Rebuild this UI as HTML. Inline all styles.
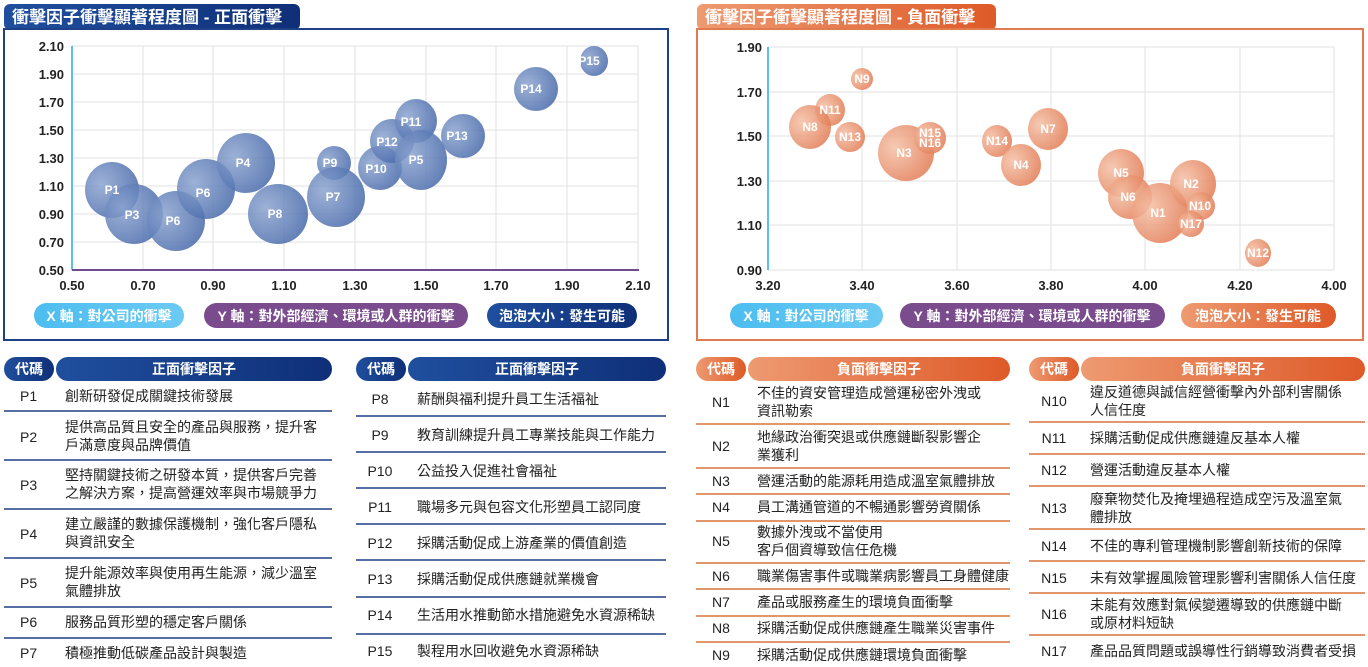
<!DOCTYPE html>
<html><head><meta charset="utf-8"><style>
body{margin:0;background:#fff;}
svg{display:block;font-family:"Liberation Sans","Noto Sans CJK TC",sans-serif;}
</style></head><body>
<svg width="1368" height="667" viewBox="0 0 1368 667" xmlns="http://www.w3.org/2000/svg">
<defs>
<linearGradient id="gb" x1="0" y1="0" x2="1" y2="0"><stop offset="0" stop-color="#1f4f9e"/><stop offset="1" stop-color="#0f2f78"/></linearGradient>
<linearGradient id="go" x1="0" y1="0" x2="1" y2="0"><stop offset="0" stop-color="#ee9a72"/><stop offset="1" stop-color="#de5a28"/></linearGradient>
<linearGradient id="gx" x1="0" y1="0" x2="1" y2="0"><stop offset="0" stop-color="#4cbdf0"/><stop offset="1" stop-color="#6ccaf2"/></linearGradient>
<radialGradient id="bb" cx="0.3" cy="0.4" r="0.8"><stop offset="0" stop-color="#8ca4cf" stop-opacity="0.85"/><stop offset="1" stop-color="#3f62a6" stop-opacity="0.85"/></radialGradient>
<radialGradient id="bo" cx="0.3" cy="0.4" r="0.8"><stop offset="0" stop-color="#f4c0a6" stop-opacity="0.85"/><stop offset="1" stop-color="#e0734a" stop-opacity="0.85"/></radialGradient>
</defs>

<!-- LEFT CHART -->
<rect x="4" y="4" width="296" height="26" rx="6" fill="url(#gb)"/>
<text x="12" y="23" font-size="17" font-weight="bold" fill="#fff">衝擊因子衝擊顯著程度圖 - 正面衝擊</text>
<rect x="4" y="29" width="664" height="311" fill="#fff" stroke="#1f3f86" stroke-width="2"/>
<g stroke="#e2e2e2" stroke-width="1">
<line x1="72" y1="46" x2="638" y2="46"/><line x1="72" y1="74" x2="638" y2="74"/><line x1="72" y1="102" x2="638" y2="102"/><line x1="72" y1="130" x2="638" y2="130"/><line x1="72" y1="158" x2="638" y2="158"/><line x1="72" y1="186" x2="638" y2="186"/><line x1="72" y1="214" x2="638" y2="214"/><line x1="72" y1="242" x2="638" y2="242"/>
<line x1="143" y1="46" x2="143" y2="270"/><line x1="213" y1="46" x2="213" y2="270"/><line x1="284" y1="46" x2="284" y2="270"/><line x1="355" y1="46" x2="355" y2="270"/><line x1="426" y1="46" x2="426" y2="270"/><line x1="496" y1="46" x2="496" y2="270"/><line x1="567" y1="46" x2="567" y2="270"/><line x1="638" y1="46" x2="638" y2="270"/>
</g>
<line x1="72" y1="46" x2="72" y2="270" stroke="#5bc0ea" stroke-width="2"/>
<line x1="72" y1="270" x2="639" y2="270" stroke="#6e4c8e" stroke-width="2"/>
<g font-size="13" font-weight="bold" fill="#222" text-anchor="end">
<text x="64" y="51">2.10</text><text x="64" y="79">1.90</text><text x="64" y="107">1.70</text><text x="64" y="135">1.50</text><text x="64" y="163">1.30</text><text x="64" y="191">1.10</text><text x="64" y="219">0.90</text><text x="64" y="247">0.70</text><text x="64" y="275">0.50</text>
</g>
<g font-size="13" font-weight="bold" fill="#222" text-anchor="middle">
<text x="72" y="290">0.50</text><text x="143" y="290">0.70</text><text x="213" y="290">0.90</text><text x="284" y="290">1.10</text><text x="355" y="290">1.30</text><text x="426" y="290">1.50</text><text x="496" y="290">1.70</text><text x="567" y="290">1.90</text><text x="638" y="290">2.10</text>
</g>
<g fill="url(#bb)">
<ellipse cx="112" cy="190" rx="27" ry="28"/><ellipse cx="134" cy="214" rx="29" ry="30"/><ellipse cx="176" cy="221" rx="29" ry="30"/><ellipse cx="206" cy="189" rx="29" ry="30"/><ellipse cx="246" cy="163" rx="29" ry="30"/><ellipse cx="278" cy="214" rx="30" ry="30"/><ellipse cx="334" cy="163" rx="17" ry="17"/><ellipse cx="336" cy="197" rx="29" ry="30"/><ellipse cx="380" cy="168" rx="22" ry="22"/><ellipse cx="392" cy="141" rx="22" ry="22"/><ellipse cx="416" cy="121" rx="21" ry="22"/><ellipse cx="421" cy="160" rx="26" ry="30"/><ellipse cx="463" cy="136" rx="22" ry="22"/><ellipse cx="536" cy="89" rx="22" ry="22"/><ellipse cx="594" cy="61" rx="14" ry="15"/>
</g>
<g font-size="12" font-weight="bold" fill="#fff" text-anchor="middle">
<text x="112" y="194">P1</text><text x="132" y="219">P3</text><text x="173" y="225">P6</text><text x="203" y="197">P6</text><text x="243" y="167">P4</text><text x="275" y="218">P8</text><text x="330" y="167">P9</text><text x="333" y="201">P7</text><text x="376" y="173">P10</text><text x="387" y="146">P12</text><text x="411" y="126">P11</text><text x="416" y="164">P5</text><text x="457" y="140">P13</text><text x="531" y="93">P14</text><text x="589" y="65">P15</text>
</g>
<rect x="34" y="303" width="150" height="25" rx="12.5" fill="url(#gx)"/>
<text x="109" y="321" font-size="14" font-weight="bold" fill="#fff" text-anchor="middle">X 軸：對公司的衝擊</text>
<rect x="204" y="303" width="264" height="25" rx="12.5" fill="#7a4c8e"/>
<text x="336" y="321" font-size="14" font-weight="bold" fill="#fff" text-anchor="middle">Y 軸：對外部經濟、環境或人群的衝擊</text>
<rect x="487" y="303" width="150" height="25" rx="12.5" fill="url(#gb)"/>
<text x="562" y="321" font-size="14" font-weight="bold" fill="#fff" text-anchor="middle">泡泡大小：發生可能</text>

<!-- RIGHT CHART -->
<rect x="697" y="4" width="299" height="26" rx="6" fill="url(#go)"/>
<text x="705" y="23" font-size="17" font-weight="bold" fill="#fff">衝擊因子衝擊顯著程度圖 - 負面衝擊</text>
<rect x="697" y="29" width="666" height="311" fill="#fff" stroke="#e07a50" stroke-width="2"/>
<g stroke="#e2e2e2" stroke-width="1">
<line x1="768" y1="47" x2="1334" y2="47"/><line x1="768" y1="92" x2="1334" y2="92"/><line x1="768" y1="136" x2="1334" y2="136"/><line x1="768" y1="181" x2="1334" y2="181"/><line x1="768" y1="225" x2="1334" y2="225"/><line x1="768" y1="270" x2="1334" y2="270"/>
<line x1="862" y1="47" x2="862" y2="270"/><line x1="957" y1="47" x2="957" y2="270"/><line x1="1051" y1="47" x2="1051" y2="270"/><line x1="1145" y1="47" x2="1145" y2="270"/><line x1="1240" y1="47" x2="1240" y2="270"/><line x1="1334" y1="47" x2="1334" y2="270"/>
</g>
<line x1="768" y1="47" x2="768" y2="270" stroke="#5bc0ea" stroke-width="2"/>
<g font-size="13" font-weight="bold" fill="#222" text-anchor="end">
<text x="762" y="52">1.90</text><text x="762" y="97">1.70</text><text x="762" y="141">1.50</text><text x="762" y="186">1.30</text><text x="762" y="230">1.10</text><text x="762" y="275">0.90</text>
</g>
<g font-size="13" font-weight="bold" fill="#222" text-anchor="middle">
<text x="768" y="290">3.20</text><text x="862" y="290">3.40</text><text x="957" y="290">3.60</text><text x="1051" y="290">3.80</text><text x="1145" y="290">4.00</text><text x="1240" y="290">4.20</text><text x="1334" y="290">4.00</text>
</g>
<g fill="url(#bo)">
<ellipse cx="862" cy="79" rx="11" ry="11"/><ellipse cx="830" cy="110" rx="15" ry="16"/><ellipse cx="810" cy="127" rx="21" ry="22"/><ellipse cx="850" cy="137" rx="15" ry="15"/><ellipse cx="906" cy="153" rx="28" ry="28"/><ellipse cx="930" cy="138" rx="16" ry="16"/><ellipse cx="997" cy="141" rx="15" ry="16"/><ellipse cx="1048" cy="129" rx="20" ry="21"/><ellipse cx="1021" cy="165" rx="20" ry="21"/><ellipse cx="1121" cy="173" rx="23" ry="24"/><ellipse cx="1130" cy="197" rx="22" ry="22"/><ellipse cx="1160" cy="213" rx="28" ry="30"/><ellipse cx="1193" cy="184" rx="23" ry="24"/><ellipse cx="1201" cy="206" rx="14" ry="14"/><ellipse cx="1191" cy="224" rx="13" ry="13"/><ellipse cx="1258" cy="253" rx="13" ry="14"/>
</g>
<g font-size="12" font-weight="bold" fill="#fff" text-anchor="middle">
<text x="862" y="83">N9</text><text x="830" y="114">N11</text><text x="810" y="131">N8</text><text x="850" y="141">N13</text><text x="904" y="157">N3</text><text x="930" y="137">N15</text><text x="930" y="147">N16</text><text x="997" y="145">N14</text><text x="1048" y="133">N7</text><text x="1021" y="169">N4</text><text x="1121" y="177">N5</text><text x="1128" y="201">N6</text><text x="1158" y="217">N1</text><text x="1191" y="188">N2</text><text x="1200" y="210">N10</text><text x="1191" y="228">N17</text><text x="1258" y="257">N12</text>
</g>
<rect x="730" y="303" width="153" height="25" rx="12.5" fill="url(#gx)"/>
<text x="806" y="321" font-size="14" font-weight="bold" fill="#fff" text-anchor="middle">X 軸：對公司的衝擊</text>
<rect x="900" y="303" width="265" height="25" rx="12.5" fill="#7a4c8e"/>
<text x="1032" y="321" font-size="14" font-weight="bold" fill="#fff" text-anchor="middle">Y 軸：對外部經濟、環境或人群的衝擊</text>
<rect x="1181" y="303" width="155" height="25" rx="12.5" fill="url(#go)"/>
<text x="1258" y="321" font-size="14" font-weight="bold" fill="#fff" text-anchor="middle">泡泡大小：發生可能</text>

<!-- TABLE 1 -->
<rect x="4" y="357" width="50" height="24" rx="12" fill="url(#gb)"/>
<rect x="56" y="357" width="276" height="24" rx="12" fill="url(#gb)"/>
<g font-size="14" font-weight="bold" fill="#fff" text-anchor="middle"><text x="29" y="374">代碼</text><text x="194" y="374">正面衝擊因子</text></g>
<g stroke="#1f3f86" stroke-width="1.5"><line x1="4" y1="411" x2="332" y2="411"/><line x1="4" y1="460" x2="332" y2="460"/><line x1="4" y1="509" x2="332" y2="509"/><line x1="4" y1="558" x2="332" y2="558"/><line x1="4" y1="607" x2="332" y2="607"/><line x1="4" y1="638" x2="332" y2="638"/></g>
<g font-size="14" fill="#222">
<text x="20" y="401">P1</text><text x="65" y="401">創新研發促成關鍵技術發展</text>
<text x="20" y="442">P2</text><text x="65" y="432">提供高品質且安全的產品與服務，提升客</text><text x="65" y="450">戶滿意度與品牌價值</text>
<text x="20" y="490">P3</text><text x="65" y="480">堅持關鍵技術之研發本質，提供客戶完善</text><text x="65" y="498">之解決方案，提高營運效率與市場競爭力</text>
<text x="20" y="539">P4</text><text x="65" y="529">建立嚴謹的數據保護機制，強化客戶隱私</text><text x="65" y="547">與資訊安全</text>
<text x="20" y="588">P5</text><text x="65" y="578">提升能源效率與使用再生能源，減少溫室</text><text x="65" y="596">氣體排放</text>
<text x="20" y="627">P6</text><text x="65" y="627">服務品質形塑的穩定客戶關係</text>
<text x="20" y="658">P7</text><text x="65" y="658">積極推動低碳產品設計與製造</text>
</g>

<!-- TABLE 2 -->
<rect x="356" y="357" width="50" height="24" rx="12" fill="url(#gb)"/>
<rect x="408" y="357" width="258" height="24" rx="12" fill="url(#gb)"/>
<g font-size="14" font-weight="bold" fill="#fff" text-anchor="middle"><text x="381" y="374">代碼</text><text x="537" y="374">正面衝擊因子</text></g>
<g stroke="#1f3f86" stroke-width="1.5"><line x1="356" y1="416" x2="666" y2="416"/><line x1="356" y1="452" x2="666" y2="452"/><line x1="356" y1="488" x2="666" y2="488"/><line x1="356" y1="524" x2="666" y2="524"/><line x1="356" y1="560" x2="666" y2="560"/><line x1="356" y1="597" x2="666" y2="597"/><line x1="356" y1="634" x2="666" y2="634"/></g>
<g font-size="14" fill="#222">
<text x="380" y="404" text-anchor="middle">P8</text><text x="417" y="404">薪酬與福利提升員工生活福祉</text>
<text x="380" y="440" text-anchor="middle">P9</text><text x="417" y="440">教育訓練提升員工專業技能與工作能力</text>
<text x="380" y="476" text-anchor="middle">P10</text><text x="417" y="476">公益投入促進社會福祉</text>
<text x="380" y="512" text-anchor="middle">P11</text><text x="417" y="512">職場多元與包容文化形塑員工認同度</text>
<text x="380" y="548" text-anchor="middle">P12</text><text x="417" y="548">採購活動促成上游產業的價值創造</text>
<text x="380" y="584" text-anchor="middle">P13</text><text x="417" y="584">採購活動促成供應鏈就業機會</text>
<text x="380" y="620" text-anchor="middle">P14</text><text x="417" y="620">生活用水推動節水措施避免水資源稀缺</text>
<text x="380" y="656" text-anchor="middle">P15</text><text x="417" y="656">製程用水回收避免水資源稀缺</text>
</g>

<!-- TABLE 3 -->
<rect x="696" y="357" width="50" height="24" rx="12" fill="url(#go)"/>
<rect x="748" y="357" width="262" height="24" rx="12" fill="url(#go)"/>
<g font-size="14" font-weight="bold" fill="#fff" text-anchor="middle"><text x="721" y="374">代碼</text><text x="879" y="374">負面衝擊因子</text></g>
<g stroke="#d9733f" stroke-width="1.5"><line x1="696" y1="424" x2="1010" y2="424"/><line x1="696" y1="468" x2="1010" y2="468"/><line x1="696" y1="494" x2="1010" y2="494"/><line x1="696" y1="521" x2="1010" y2="521"/><line x1="696" y1="563" x2="1010" y2="563"/><line x1="696" y1="589" x2="1010" y2="589"/><line x1="696" y1="616" x2="1010" y2="616"/><line x1="696" y1="642" x2="1010" y2="642"/></g>
<g font-size="14" fill="#222">
<text x="712" y="407">N1</text><text x="757" y="398">不佳的資安管理造成營運秘密外洩或</text><text x="757" y="416">資訊勒索</text>
<text x="712" y="451">N2</text><text x="757" y="442">地緣政治衝突退或供應鏈斷裂影響企</text><text x="757" y="460">業獲利</text>
<text x="712" y="486">N3</text><text x="757" y="486">營運活動的能源耗用造成溫室氣體排放</text>
<text x="712" y="512">N4</text><text x="757" y="512">員工溝通管道的不暢通影響勞資關係</text>
<text x="712" y="546">N5</text><text x="757" y="537">數據外洩或不當使用</text><text x="757" y="555">客戶個資導致信任危機</text>
<text x="712" y="581">N6</text><text x="757" y="581">職業傷害事件或職業病影響員工身體健康</text>
<text x="712" y="607">N7</text><text x="757" y="607">產品或服務產生的環境負面衝擊</text>
<text x="712" y="633">N8</text><text x="757" y="633">採購活動促成供應鏈產生職業災害事件</text>
<text x="712" y="660">N9</text><text x="757" y="660">採購活動促成供應鏈環境負面衝擊</text>
</g>

<!-- TABLE 4 -->
<rect x="1029" y="357" width="50" height="24" rx="12" fill="url(#go)"/>
<rect x="1081" y="357" width="284" height="24" rx="12" fill="url(#go)"/>
<g font-size="14" font-weight="bold" fill="#fff" text-anchor="middle"><text x="1054" y="374">代碼</text><text x="1223" y="374">負面衝擊因子</text></g>
<g stroke="#d9733f" stroke-width="1.5"><line x1="1029" y1="422" x2="1365" y2="422"/><line x1="1029" y1="454" x2="1365" y2="454"/><line x1="1029" y1="486" x2="1365" y2="486"/><line x1="1029" y1="529" x2="1365" y2="529"/><line x1="1029" y1="561" x2="1365" y2="561"/><line x1="1029" y1="593" x2="1365" y2="593"/><line x1="1029" y1="635" x2="1365" y2="635"/></g>
<g font-size="14" fill="#222">
<text x="1054" y="406" text-anchor="middle">N10</text><text x="1090" y="397">違反道德與誠信經營衝擊內外部利害關係</text><text x="1090" y="415">人信任度</text>
<text x="1054" y="443" text-anchor="middle">N11</text><text x="1090" y="443">採購活動促成供應鏈違反基本人權</text>
<text x="1054" y="475" text-anchor="middle">N12</text><text x="1090" y="475">營運活動違反基本人權</text>
<text x="1054" y="513" text-anchor="middle">N13</text><text x="1090" y="504">廢棄物焚化及掩埋過程造成空污及溫室氣</text><text x="1090" y="522">體排放</text>
<text x="1054" y="551" text-anchor="middle">N14</text><text x="1090" y="551">不佳的專利管理機制影響創新技術的保障</text>
<text x="1054" y="583" text-anchor="middle">N15</text><text x="1090" y="583">未有效掌握風險管理影響利害關係人信任度</text>
<text x="1054" y="619" text-anchor="middle">N16</text><text x="1090" y="610">未能有效應對氣候變遷導致的供應鏈中斷</text><text x="1090" y="628">或原材料短缺</text>
<text x="1054" y="656" text-anchor="middle">N17</text><text x="1090" y="656">產品品質問題或誤導性行銷導致消費者受損</text>
</g>
</svg>
</body></html>
